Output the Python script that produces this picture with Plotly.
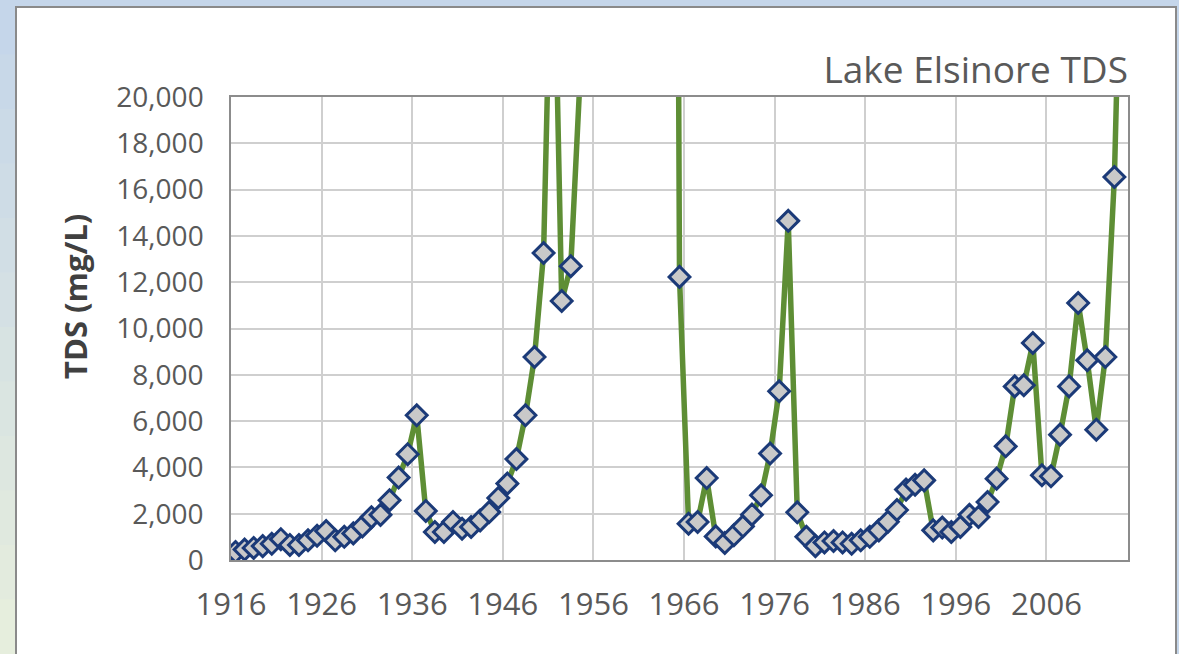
import plotly.graph_objects as go

# Lake Elsinore TDS (mg/L), annual values (1954-1963: no data, lake dry)
years = [1916, 1917, 1918, 1919, 1920, 1921, 1922, 1923, 1924, 1925,
         1926, 1927, 1928, 1929, 1930, 1931, 1932, 1933, 1934, 1935,
         1936, 1937, 1938, 1939, 1940, 1941, 1942, 1943, 1944, 1945,
         1946, 1947, 1948, 1949, 1950, 1951, 1952, 1953,
         1964, 1965, 1966, 1967, 1968, 1969, 1970, 1971, 1972, 1973,
         1974, 1975, 1976, 1977, 1978, 1979, 1980, 1981, 1982, 1983,
         1984, 1985, 1986, 1987, 1988, 1989, 1990, 1991, 1992, 1993,
         1994, 1995, 1996, 1997, 1998, 1999, 2000, 2001, 2002, 2003,
         2004, 2005, 2006, 2007, 2008, 2009, 2010, 2011, 2012, 2013, 2014]
tds = [350, 450, 520, 600, 700, 900, 650, 650, 850, 1050,
       1250, 850, 1000, 1150, 1450, 1850, 1950, 2580, 3560, 4570,
       6250, 2120, 1210, 1210, 1640, 1350, 1430, 1710, 2070, 2680,
       3300, 4360, 6250, 8770, 13260, 30000, 11190, 12690,
       100000, 12230, 1570, 1640, 3540, 1020, 735, 1070, 1455, 1960,
       2795, 4600, 7290, 14650, 2060, 1000, 600, 760, 820, 760,
       700, 850, 1000, 1280, 1650, 2160, 3040, 3250, 3440, 1280,
       1400, 1210, 1430, 1950, 1860, 2505, 3515, 4910, 7500, 7550,
       9375, 3660, 3615, 5415, 7500, 11100, 8625, 5630, 8770, 16545, 32000]

x_tick_labels = ["1916", "1926", "1936", "1946", "1956", "1966", "1976", "1986", "1996", "2006"]
x_tick_vals = [int(t) for t in x_tick_labels]
y_ticks = list(range(0, 20001, 2000))

# mid-year positions
x_mid = [y + 0.5 for y in years]

W, H = 1179, 654
L, R, T, B = 231, 51, 97, 94
pw, ph = W - L - R, H - T - B

def px_x(px):
    return (px - L) / pw

def px_y(py):
    return (H - B - py) / ph

fig = go.Figure()
fig.add_trace(go.Scatter(
    x=x_mid, y=tds, mode="lines+markers",
    line=dict(color="#5E8E35", width=5.5),
    marker=dict(symbol="diamond", size=16, color="#C9C9C9",
                line=dict(color="#1B3A78", width=3)),
    cliponaxis=True, showlegend=False,
))

shapes = []
# left decorative gradient strip
top_c = (197, 214, 234)
bot_c = (230, 238, 221)
n = 12
for i in range(n):
    f = i / (n - 1)
    c = tuple(int(top_c[k] + (bot_c[k] - top_c[k]) * f) for k in range(3))
    shapes.append(dict(type="rect", xref="paper", yref="paper", layer="below",
                       x0=px_x(0), x1=px_x(16), y0=px_y(i * H / n), y1=px_y((i + 1) * H / n + 1),
                       fillcolor="rgb(%d,%d,%d)" % c, line=dict(width=0)))
# white slide panel with grey frame
shapes.append(dict(type="rect", xref="paper", yref="paper", layer="below",
                   x0=px_x(16), x1=px_x(1176), y0=px_y(7), y1=px_y(H + 20),
                   fillcolor="white", line=dict(color="#8A8A8A", width=2)))

fig.update_layout(
    width=W, height=H,
    margin=dict(l=L, r=R, t=T, b=B),
    paper_bgcolor="rgb(197,214,234)",
    plot_bgcolor="white",
    font=dict(family="Open Sans", color="#595959"),
    shapes=shapes,
    title=dict(text="Lake Elsinore TDS", font=dict(size=37, color="#595959"),
               x=1.0, xref="paper", xanchor="right",
               y=1 - 70 / H, yref="container", yanchor="middle"),
    annotations=[dict(text="<b>TDS (mg/L)</b>", textangle=-90, showarrow=False,
                      xref="paper", yref="paper", x=px_x(75), y=px_y(297),
                      xanchor="center", yanchor="middle",
                      font=dict(size=31, color="#404040"))],
    xaxis=dict(range=[1916, 2015], tickvals=x_tick_vals, ticktext=x_tick_labels,
               showgrid=True, gridcolor="#CFCFCF", gridwidth=1.5,
               showline=True, linecolor="#8C8C8C", linewidth=1.5, mirror=True,
               ticks="", tickfont=dict(size=31, color="#595959"),
               ticklabelstandoff=16, zeroline=False),
    yaxis=dict(range=[0, 20000], tickvals=y_ticks, tickformat=",d",
               showgrid=True, gridcolor="#CFCFCF", gridwidth=1.5,
               showline=True, linecolor="#8C8C8C", linewidth=1.5, mirror=True,
               ticks="", tickfont=dict(size=28, color="#595959"),
               ticklabelstandoff=20, zeroline=False),
)

fig.write_html("out.html", config={"displayModeBar": False},
               post_script="document.body.style.margin='0';document.body.style.padding='0';"
                           "document.body.style.overflow='hidden';")
